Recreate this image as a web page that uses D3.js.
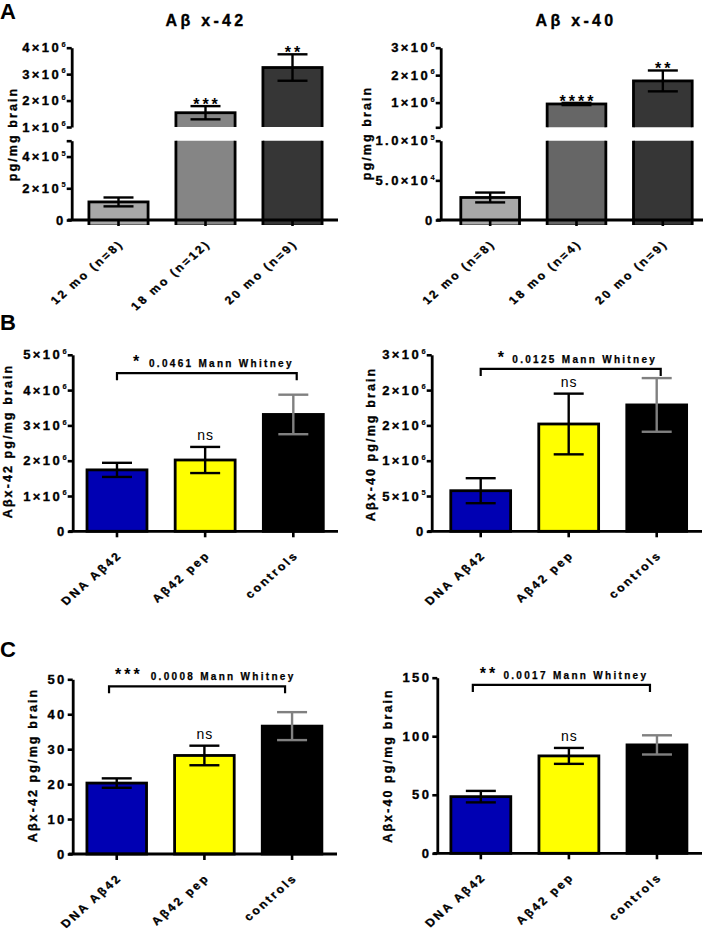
<!DOCTYPE html>
<html><head><meta charset="utf-8">
<script src="https://cdn.jsdelivr.net/npm/d3@7"></script>
<style>
body{margin:0;background:#fff}
svg{display:block}
text{font-family:Arial,"Liberation Sans",sans-serif;fill:#000}
</style>
</head><body>
<svg id="chart" width="707" height="930"></svg>
<script>
// ---------------- DATA ----------------
const ageCats42 = ["12 mo (n=8)", "18 mo (n=12)", "20 mo (n=9)"];
const ageCats40 = ["12 mo (n=8)", "18 mo (n=4)", "20 mo (n=9)"];
const a42Means = [1.14e5, 1.54e6, 3.25e6];
const a42Errs  = [0.28e5, 0.25e6, 0.50e6];
const a42Stars = ["", "***", "**"];
const a40Means = [2.84e4, 0.95e6, 1.79e6];
const a40Errs  = [0.62e4, 0.04e6, 0.38e6];
const a40Stars = ["", "****", "**"];
const a42LowerTicks  = [0, 2e5, 4e5, 5e5];
const a42LowerLabels = ["0", "2×10^5", "4×10^5", ""];
const a42UpperTicks  = [1e6, 2e6, 3e6, 4e6];
const a42UpperLabels = ["1×10^6", "2×10^6", "3×10^6", "4×10^6"];
const a40LowerTicks  = [0, 5e4, 1e5];
const a40LowerLabels = ["0", "5.0×10^4", "1.0×10^5"];
const a40UpperTicks  = [1e5, 1e6, 2e6, 3e6];
const a40UpperLabels = ["", "1×10^6", "2×10^6", "3×10^6"];

const treatCats = ["DNA Aβ42", "Aβ42 pep", "controls"];
const b42Means = [1.74e6, 2.02e6, 3.31e6];
const b42Errs  = [0.20e6, 0.37e6, 0.56e6];
const b40Means = [5.75e5, 1.52e6, 1.79e6];
const b40Errs  = [1.77e5, 0.43e6, 0.38e6];
const c42Means = [20.3, 28.2, 36.6];
const c42Errs  = [1.35, 2.8, 4.0];
const c40Means = [48.4, 83.2, 92.6];
const c40Errs  = [4.9, 6.8, 8.2];
const treatMarks = ["", "ns", ""];

const b42Ticks  = [0, 1e6, 2e6, 3e6, 4e6, 5e6];
const b42Labels = ["0", "1×10^6", "2×10^6", "3×10^6", "4×10^6", "5×10^6"];
const b40Ticks  = [0, 5e5, 1e6, 1.5e6, 2e6, 2.5e6];
const b40Labels = ["0", "5×10^5", "1×10^6", "2×10^6", "2×10^6", "3×10^6"];
const c42Ticks  = [0, 10, 20, 30, 40, 50];
const c42Labels = ["0", "10", "20", "30", "40", "50"];
const c40Ticks  = [0, 50, 100, 150];
const c40Labels = ["0", "50", "100", "150"];

const bracketTexts  = ["0.0461 Mann Whitney", "0.0125 Mann Whitney", "0.0008 Mann Whitney", "0.0017 Mann Whitney"];
const bracketStars  = ["*", "*", "***", "**"];
const bracketValues = [4.48e6, 2.3e6, 48, 143.8];

// ---------------- DRAWING ----------------
const svg = d3.select("#chart");
const TICK_FS = 13, TICK_LS = 2.4;
const HEAVY = 0.35;

function supText(g, label, x, y) {
  const t = g.append("text").attr("x", x).attr("y", y).attr("dy", "0.36em")
    .attr("text-anchor", "end").attr("font-size", TICK_FS).attr("font-weight", 700)
    .attr("stroke", "#000").attr("stroke-width", HEAVY);
  const parts = label.split("^");
  t.append("tspan").attr("letter-spacing", TICK_LS).text(parts[0]);
  if (parts[1]) t.append("tspan").attr("font-size", 7.5).attr("stroke-width", 0.15).attr("dy", -5.5).attr("dx", 0.5).text(parts[1]);
}

function yAxis(g, scale, ticks, labels, axisX) {
  const ax = g.append("g").attr("transform", `translate(${axisX},0)`)
    .call(d3.axisLeft(scale).tickValues(ticks).tickSize(5).tickSizeOuter(0).tickFormat(""));
  ax.select(".domain").attr("stroke", "#000").attr("stroke-width", 2.8);
  ax.selectAll(".tick line").attr("stroke", "#000").attr("stroke-width", 2.6);
  ticks.forEach((t, i) => { if (labels[i]) supText(g, labels[i], axisX - 6, scale(t)); });
}

function xAxis(g, x, axisY, xStart, xEnd, cats) {
  g.append("line").attr("x1", xStart).attr("x2", xEnd).attr("y1", axisY).attr("y2", axisY)
    .attr("stroke", "#000").attr("stroke-width", 2.8);
  const ax = g.append("g").attr("transform", `translate(0,${axisY})`)
    .call(d3.axisBottom(x).tickSize(6).tickSizeOuter(0).tickFormat(""));
  ax.select(".domain").remove();
  ax.selectAll(".tick line").attr("stroke", "#000").attr("stroke-width", 2.6);
  cats.forEach(c => {
    const cx = x(c) + x.bandwidth() / 2;
    g.append("text").attr("transform", `translate(${cx + 6},${axisY + 24.5}) scale(1,0.88) rotate(-45)`)
      .attr("text-anchor", "end").attr("font-size", 12.5).attr("font-weight", 700)
      .attr("stroke", "#000").attr("stroke-width", HEAVY)
      .attr("letter-spacing", 2.5).text(c);
  });
}

function yLabel(g, text, x, y) {
  g.append("text").attr("transform", `translate(${x},${y}) rotate(-90)`)
    .attr("text-anchor", "middle").attr("dy", "0.35em").attr("font-size", 12.5).attr("font-weight", 700)
    .attr("stroke", "#000").attr("stroke-width", HEAVY)
    .attr("letter-spacing", 2.1).text(text);
}

function errorBars(g, x, cats, means, errs, yOf, colors) {
  const cap = 15;
  means.forEach((m, i) => {
    const cx = x(cats[i]) + x.bandwidth() / 2;
    const y1 = yOf(m + errs[i]), y0 = yOf(m - errs[i]);
    const col = colors[i];
    g.append("line").attr("x1", cx).attr("x2", cx).attr("y1", y1).attr("y2", y0).attr("stroke", col).attr("stroke-width", 2.4);
    g.append("line").attr("x1", cx - cap).attr("x2", cx + cap).attr("y1", y1).attr("y2", y1).attr("stroke", col).attr("stroke-width", 2.4);
    g.append("line").attr("x1", cx - cap).attr("x2", cx + cap).attr("y1", y0).attr("y2", y0).attr("stroke", col).attr("stroke-width", 2.4);
  });
}

// ----- Panel A (broken axis) -----
let clipId = 0;
function brokenPanel(cfg) {
  const g = svg.append("g");
  const x = d3.scaleBand().domain(cfg.cats).range(cfg.band).paddingInner(0.32).paddingOuter(0.16);
  const yL = d3.scaleLinear().domain([cfg.lowerTicks[0], cfg.lowerTicks[cfg.lowerTicks.length - 1]]).range(cfg.lowerRange);
  const yU = d3.scaleLinear().domain([cfg.upperTicks[0], cfg.upperTicks[cfg.upperTicks.length - 1]]).range(cfg.upperRange);
  const lowMax = yL.domain()[1];
  const yOf = v => v <= lowMax ? yL(v) : yU(v);

  const segs = [
    { scale: yL, clipTop: cfg.lowerRange[1], clipBot: cfg.lowerRange[0] + 5 },
    { scale: yU, clipTop: cfg.upperRange[1] - 20, clipBot: cfg.upperRange[0] }
  ];
  segs.forEach(s => {
    const id = "clip" + (clipId++);
    g.append("clipPath").attr("id", id).append("rect")
      .attr("x", 0).attr("width", 707).attr("y", s.clipTop).attr("height", s.clipBot - s.clipTop);
    const d0 = s.scale.domain();
    const sg = g.append("g").attr("clip-path", `url(#${id})`);
    cfg.means.forEach((m, i) => {
      if (m <= d0[0]) return;
      const top = m >= d0[1] ? s.scale(d0[1]) - 6 : s.scale(m);
      const bot = s.scale(d0[0]) + 6;
      sg.append("rect").attr("x", x(cfg.cats[i])).attr("width", x.bandwidth())
        .attr("y", top).attr("height", bot - top)
        .attr("fill", cfg.colors[i]).attr("stroke", "#000").attr("stroke-width", 2.8);
    });
  });
  errorBars(g, x, cfg.cats, cfg.means, cfg.errs, yOf, ["#000", "#000", "#000"]);
  cfg.means.forEach((m, i) => {
    if (!cfg.stars[i]) return;
    g.append("text").attr("x", x(cfg.cats[i]) + x.bandwidth() / 2 + 1.5).attr("y", yOf(m + cfg.errs[i]) + 4)
      .attr("text-anchor", "middle").attr("font-size", 16).attr("font-weight", 700)
      .attr("letter-spacing", 3).text(cfg.stars[i]);
  });
  yAxis(g, yL, cfg.lowerTicks, cfg.lowerLabels, cfg.axisX);
  yAxis(g, yU, cfg.upperTicks, cfg.upperLabels, cfg.axisX);
  xAxis(g, x, cfg.lowerRange[0], cfg.axisX - 4, cfg.xEnd, cfg.cats);
  yLabel(g, "pg/mg brain", cfg.ylabX, cfg.ylabY);
  g.append("text").attr("x", cfg.titleX).attr("y", 25.5).attr("text-anchor", "middle")
    .attr("font-size", 16).attr("font-weight", 700).attr("stroke", "#000").attr("stroke-width", HEAVY)
    .attr("letter-spacing", 3.3).text(cfg.title);
}

brokenPanel({
  cats: ageCats42, means: a42Means, errs: a42Errs, stars: a42Stars,
  lowerTicks: a42LowerTicks, lowerLabels: a42LowerLabels, upperTicks: a42UpperTicks, upperLabels: a42UpperLabels,
  colors: ["#a8a8a8", "#858585", "#363636"],
  band: [75, 336], axisX: 71.7, xEnd: 338, lowerRange: [220, 140.7], upperRange: [127, 47.7],
  ylabX: 12.5, ylabY: 134, title: "Aβ x-42", titleX: 206
});
brokenPanel({
  cats: ageCats40, means: a40Means, errs: a40Errs, stars: a40Stars,
  lowerTicks: a40LowerTicks, lowerLabels: a40LowerLabels, upperTicks: a40UpperTicks, upperLabels: a40UpperLabels,
  colors: ["#a8a8a8", "#666666", "#363636"],
  band: [447, 706], axisX: 440.7, xEnd: 703, lowerRange: [220, 140.7], upperRange: [127.3, 47.7],
  ylabX: 366.5, ylabY: 133, title: "Aβ x-40", titleX: 576
});

// ----- Panels B & C -----
function simplePanel(cfg) {
  const g = svg.append("g");
  const x = d3.scaleBand().domain(treatCats).range(cfg.band).paddingInner(0.32).paddingOuter(0.16);
  const y = d3.scaleLinear().domain([cfg.ticks[0], cfg.ticks[cfg.ticks.length - 1]]).range(cfg.yRange);
  const colors = ["#0000b3", "#ffff00", "#000000"];
  g.selectAll("rect.bar").data(cfg.means).join("rect").attr("class", "bar")
    .attr("x", (d, i) => x(treatCats[i])).attr("width", x.bandwidth())
    .attr("y", d => y(d)).attr("height", d => y(0) - y(d))
    .attr("fill", (d, i) => colors[i]).attr("stroke", "#000").attr("stroke-width", 2.8);
  errorBars(g, x, treatCats, cfg.means, cfg.errs, y, ["#000", "#000", "#808080"]);
  treatMarks.forEach((t, i) => {
    if (!t) return;
    g.append("text").attr("x", x(treatCats[i]) + x.bandwidth() / 2 + 0.5).attr("y", y(cfg.means[i] + cfg.errs[i]) - 7)
      .attr("text-anchor", "middle").attr("font-size", 14).attr("letter-spacing", 1).text(t);
  });
  const c1 = x(treatCats[0]) + x.bandwidth() / 2, c3 = x(treatCats[2]) + x.bandwidth() / 2;
  const bx1 = c1 + cfg.br[0], bx2 = c3 + cfg.br[1], by = y(bracketValues[cfg.k]);
  g.append("path").attr("d", `M${bx1},${by + 7}V${by}H${bx2}V${by + 7}`)
    .attr("fill", "none").attr("stroke", "#000").attr("stroke-width", 2.2);
  g.append("text").attr("x", bx1 + cfg.starDx).attr("y", by - 6).attr("font-size", 16).attr("font-weight", 700)
    .attr("letter-spacing", 3).text(bracketStars[cfg.k]);
  g.append("text").attr("x", bx1 + cfg.textDx).attr("y", by - 6).attr("font-size", 10).attr("font-weight", 700)
    .attr("stroke", "#000").attr("stroke-width", 0.25)
    .attr("letter-spacing", 2.3).text(bracketTexts[cfg.k]);

  yAxis(g, y, cfg.ticks, cfg.labels, cfg.axisX);
  xAxis(g, x, cfg.yRange[0], cfg.axisX - 4, cfg.xEnd, treatCats);
  yLabel(g, cfg.ylab, cfg.ylabX, cfg.ylabY);
}

simplePanel({ k: 0, means: b42Means, errs: b42Errs, ticks: b42Ticks, labels: b42Labels,
  band: [72.9, 337.4], axisX: 72.7, xEnd: 338, yRange: [531.3, 354.8],
  br: [0, 3.4], starDx: 16, textDx: 32, ylab: "Aβx-42 pg/mg brain", ylabX: 7.5, ylabY: 441 });
simplePanel({ k: 1, means: b40Means, errs: b40Errs, ticks: b40Ticks, labels: b40Labels,
  band: [436.7, 700.7], axisX: 431.7, xEnd: 702, yRange: [531.3, 354.8],
  br: [0, 4], starDx: 17, textDx: 31.6, ylab: "Aβx-40 pg/mg brain", ylabX: 371, ylabY: 444 });
simplePanel({ k: 2, means: c42Means, errs: c42Errs, ticks: c42Ticks, labels: c42Labels,
  band: [72.9, 335.9], axisX: 72.7, xEnd: 337, yRange: [854, 679.3],
  br: [-7.7, -7], starDx: 6, textDx: 41.7, ylab: "Aβx-42 pg/mg brain", ylabX: 33, ylabY: 765 });
simplePanel({ k: 3, means: c40Means, errs: c40Errs, ticks: c40Ticks, labels: c40Labels,
  band: [436.8, 701], axisX: 437.3, xEnd: 702, yRange: [853.3, 677.7],
  br: [-8, -7], starDx: 7, textDx: 30.6, ylab: "Aβx-40 pg/mg brain", ylabX: 388, ylabY: 765.5 });

[["A", 18.5], ["B", 330], ["C", 656.5]].forEach(([t, yy]) => {
  svg.append("text").attr("x", 0).attr("y", yy).attr("font-size", 22).attr("font-weight", 700).text(t);
});
</script>
</body></html>
